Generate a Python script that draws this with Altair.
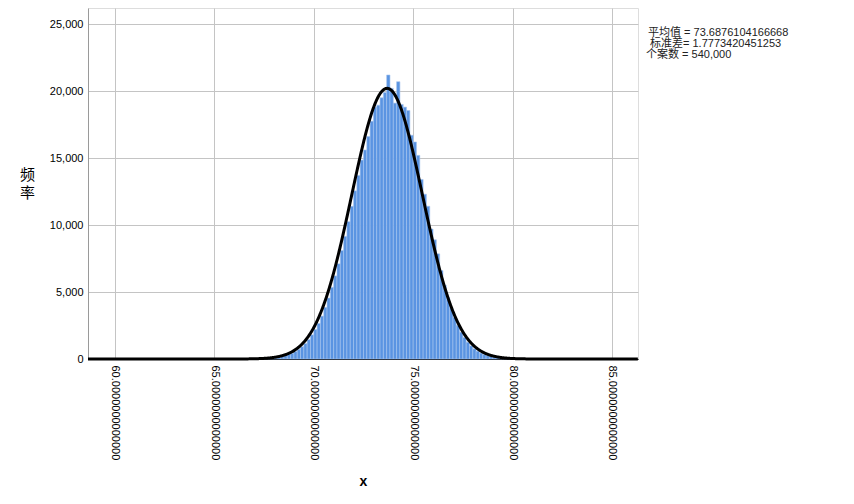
import altair as alt
import pandas as pd

# ---- data ----
bin_start = 67.5
bin_width = 1 / 6
counts = [
    40, 55, 75, 100, 140, 190, 250, 330, 430, 560,
    720, 920, 1150, 1450, 1800, 2200, 2650, 3200, 3850, 4550,
    5350, 6200, 7100, 8100, 9150, 10250, 11400, 12550, 13700, 14850,
    15600, 16600, 17750, 18800, 18950, 19500, 19900, 21200, 20200, 19100,
    20700, 19000, 18800, 18550, 16700, 16200, 15200, 13400, 12300, 11400,
    9700, 8900, 7850, 6600, 5500, 4600, 3800, 3100, 2500, 2000,
    1600, 1250, 980, 760, 580, 440, 330, 250, 185, 135,
    100, 72, 52, 37, 26,
]
mean_x = 73.6876104166668
sd_x = 1.7773420451253
n_cases = 540000
x_ticks = [60, 65, 70, 75, 80, 85]
y_ticks = [0, 5000, 10000, 15000, 20000, 25000]
stats_lines = ["平均值 = 73.6876104166668", "标准差= 1.7773420451253", "个案数 = 540,000"]
x_title = "x"
y_title = ["频", "率"]

x_domain = [58.642, 86.31]
y_domain = [0, 26200]

hist = pd.DataFrame({
    "x0": [bin_start + i * bin_width for i in range(len(counts))],
    "count": counts,
})
hist["x1"] = hist["x0"] + bin_width
hist["base"] = 0

FONT = "Liberation Sans, Arial, Noto Sans CJK SC"

x_scale = alt.Scale(domain=x_domain, nice=False, zero=False)
y_scale = alt.Scale(domain=y_domain, nice=False)

x_axis = alt.Axis(
    values=x_ticks, format=".13f", labelAngle=90, labelFontSize=11,
    labelColor="#000", labelFont=FONT, tickSize=0, labelPadding=6,
    grid=True, gridColor="#C4C4C4", domainColor="#000", domainWidth=1,
    title=x_title, titleFont=FONT, titleFontSize=14, titleFontWeight="bold",
    titleColor="#000", titleBaseline="alphabetic", titleY=126,
)
y_axis = alt.Axis(
    values=y_ticks, format=",d", labelFontSize=11, labelColor="#000",
    labelFont=FONT, tickSize=0, labelPadding=5,
    grid=True, gridColor="#C4C4C4", domainColor="#9A9A9A",
    title=y_title, titleAngle=0, titleFont="Noto Sans CJK SC", titleFontSize=15,
    titleFontWeight="normal", titleColor="#000", titleX=-61, titleY=166,
    titleAlign="center", titleBaseline="middle", titleLineHeight=18,
)

bars = alt.Chart(hist).mark_rect(
    color="#5A94E2", stroke="#A6C5EF", strokeWidth=0.6
).encode(
    x=alt.X("x0:Q", scale=x_scale, axis=x_axis),
    x2="x1:Q",
    y=alt.Y("count:Q", scale=y_scale, axis=y_axis),
    y2="base:Q",
)

peak = n_cases * bin_width
curve = alt.Chart(alt.sequence(x_domain[0], x_domain[1], 0.02, as_="x")).transform_calculate(
    y=f"{peak}/({sd_x}*sqrt(2*PI))*exp(-0.5*pow((datum.x-{mean_x})/{sd_x},2))"
).mark_line(color="#000", strokeWidth=3).encode(
    x=alt.X("x:Q", scale=x_scale),
    y=alt.Y("y:Q", scale=y_scale),
)

text_layers = []
offsets = [(560, 25), (562, 36), (558, 47)]
for line, (tx, ty) in zip(stats_lines, offsets):
    text_layers.append(
        alt.Chart(pd.DataFrame({"t": [line]})).mark_text(
            align="left", baseline="middle", font=FONT, fontSize=11, color="#222"
        ).encode(x=alt.value(tx), y=alt.value(ty), text="t:N")
    )

chart = alt.layer(bars, curve, *text_layers).properties(
    width=550, height=351,
    autosize=alt.AutoSizeParams(type="none"),
    padding={"left": 80, "top": 0, "right": 200, "bottom": 130},
).configure_view(stroke=None).configure(background="white")

chart.save("out.html", embed_options={"renderer": "svg", "actions": False})
